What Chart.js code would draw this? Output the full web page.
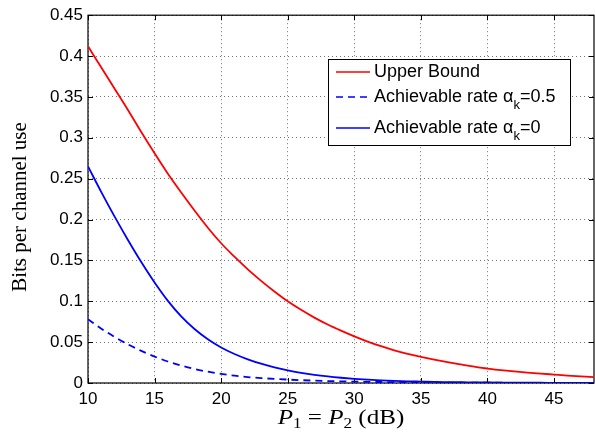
<!DOCTYPE html>
<html><head><meta charset="utf-8">
<script src="https://cdn.jsdelivr.net/npm/chart.js@4.4.1/dist/chart.umd.min.js"></script>
<style>html,body{margin:0;padding:0;background:#fff;}#wrap{width:595px;height:433px;position:relative;}</style>
</head><body><div id="wrap"><canvas id="c" width="595" height="433"></canvas></div>
<script>
// ---- data ----
const xValues = [10,11,12,13,14,15,16,17,18,19,20,21,22,23,24,25,26,27,28,29,30,31,32,33,34,35,36,37,38,39,40,41,42,43,44,45,46,47,48];
const upperBound = [0.412,0.386,0.360,0.334,0.307,0.281,0.256,0.233,0.211,0.190,0.171,0.1545,0.139,0.125,0.112,0.100,0.0895,0.080,0.0715,0.064,0.057,0.0507,0.045,0.040,0.0357,0.032,0.0286,0.0255,0.0227,0.0200,0.0176,0.0158,0.0142,0.0128,0.0115,0.0103,0.0091,0.0080,0.0071];
const rateAlpha05 = [0.078,0.0665,0.0563,0.0473,0.0393,0.0323,0.0263,0.0213,0.0171,0.0138,0.0111,0.0090,0.0073,0.0060,0.0050,0.0042,0.0035,0.0029,0.0024,0.0020,0.0017,0.0014,0.0012,0.0010,0.0008,0.0007,0.0006,0.0005,0.0004,0.0004,0.0003,0.0003,0.0002,0.0002,0.0002,0.0001,0.0001,0.0001,0.0001];
const rateAlpha0 = [0.265,0.2335,0.2035,0.175,0.148,0.123,0.1005,0.0815,0.066,0.0535,0.0435,0.0355,0.029,0.0236,0.0192,0.0155,0.0125,0.0100,0.0080,0.0064,0.0051,0.0041,0.0033,0.0026,0.0021,0.0017,0.0013,0.0011,0.0009,0.0007,0.0006,0.0005,0.0004,0.0003,0.0003,0.0002,0.0002,0.0002,0.0001];
const seriesLabels = ['Upper Bound','Achievable rate \u03b1_k=0.5','Achievable rate \u03b1_k=0'];
const xTicks = [10,15,20,25,30,35,40,45];
const yTicks = [0,0.05,0.1,0.15,0.2,0.25,0.3,0.35,0.4,0.45];
const yTickLabels = ['0','0.05','0.1','0.15','0.2','0.25','0.3','0.35','0.4','0.45'];
const xTitleParts = [['P','i'],['1','s'],[' = ','n'],['P','i'],['2','s'],[' (dB)','n']];
const yTitle = 'Bits per channel use';

const toXY = arr => xValues.map((x,i)=>({x:x,y:arr[i]}));

const boxPlugin = {
  id:'box',
  beforeDatasetsDraw(chart){
    const {ctx, chartArea:{left,top,right,bottom}, scales:{x,y}} = chart;
    ctx.save();
    ctx.strokeStyle='#000'; ctx.lineWidth=1.2; ctx.setLineDash([]);
    ctx.strokeRect(left, top, right-left, bottom-top);
    ctx.lineWidth=1;
    const L=5;
    xTicks.forEach(v=>{const p=Math.round(x.getPixelForValue(v))+0.5;
      ctx.beginPath();ctx.moveTo(p,bottom);ctx.lineTo(p,bottom-L);ctx.moveTo(p,top);ctx.lineTo(p,top+L);ctx.stroke();});
    yTicks.forEach(v=>{const p=Math.round(y.getPixelForValue(v))+0.5;
      ctx.beginPath();ctx.moveTo(left,p);ctx.lineTo(left+L,p);ctx.moveTo(right,p);ctx.lineTo(right-L,p);ctx.stroke();});
    ctx.restore();
  },
  afterDraw(chart){
    const {ctx} = chart;
    ctx.save();
    ctx.fillStyle='#000';
    // y title
    ctx.save();
    ctx.translate(26, 207);
    ctx.rotate(-Math.PI/2);
    ctx.font='21px "Liberation Serif"';
    ctx.textAlign='center'; ctx.textBaseline='alphabetic';
    ctx.fillText(yTitle,0,0);
    ctx.restore();
    // x title
    const fonts={i:'italic 22px "Liberation Serif"', n:'22px "Liberation Serif"', s:'15px "Liberation Serif"'};
    let w=0; xTitleParts.forEach(p=>{ctx.font=fonts[p[1]]; w+=ctx.measureText(p[0]).width;});
    const sx=1.14;
    ctx.save();
    ctx.translate(341,424); ctx.scale(sx,1);
    let cx=-w/2;
    ctx.textAlign='left'; ctx.textBaseline='alphabetic';
    xTitleParts.forEach(p=>{ctx.font=fonts[p[1]]; ctx.fillText(p[0],cx,(p[1]==='s'?4:0)); cx+=ctx.measureText(p[0]).width;});
    ctx.restore();
    // legend
    const lx=328, ly=59, lw=242, lh=86;
    ctx.fillStyle='#fff'; ctx.fillRect(lx,ly,lw,lh);
    ctx.strokeStyle='#000'; ctx.lineWidth=1; ctx.strokeRect(lx+0.5,ly+0.5,lw,lh);
    const rows=[72,97,128];
    chart.data.datasets.forEach((ds,i)=>{
      const yy=rows[i];
      ctx.strokeStyle=ds.borderColor; ctx.lineWidth=1.6; ctx.setLineDash(ds.borderDash||[]);
      ctx.beginPath(); ctx.moveTo(336,yy); ctx.lineTo(370,yy); ctx.stroke(); ctx.setLineDash([]);
      ctx.fillStyle='#000'; ctx.textBaseline='middle';
      const parts=ds.label.split(/_(\w)/);
      let tx=374;
      parts.forEach((t,j)=>{
        if(j%2===1){ctx.font='13px "Liberation Sans"'; ctx.fillText(t,tx,yy+8);}
        else {ctx.font='18px "Liberation Sans"'; ctx.fillText(t,tx,yy);}
        tx+=ctx.measureText(t).width;
      });
    });
    ctx.restore();
  }
};

new Chart(document.getElementById('c'),{
  type:'line',
  data:{datasets:[
    {label:seriesLabels[0], data:toXY(upperBound), borderColor:'#ff0000', borderWidth:1.8, pointRadius:0, cubicInterpolationMode:'monotone', fill:false},
    {label:seriesLabels[1], data:toXY(rateAlpha05), borderColor:'#0000ff', borderWidth:1.8, borderDash:[7,5], pointRadius:0, cubicInterpolationMode:'monotone', fill:false},
    {label:seriesLabels[2], data:toXY(rateAlpha0), borderColor:'#0000ff', borderWidth:1.8, pointRadius:0, cubicInterpolationMode:'monotone', fill:false}
  ]},
  options:{
    responsive:false, animation:false, devicePixelRatio:1,
    layout:{padding:{left:0,top:11,right:1,bottom:0}},
    plugins:{legend:{display:false}, tooltip:{enabled:false}},
    scales:{
      x:{type:'linear', min:10, max:48,
        afterFit(s){s.height=50;},
        afterBuildTicks(s){s.ticks=xTicks.map(v=>({value:v}));},
        grid:{color:'rgba(0,0,0,0.55)', lineWidth:1, drawTicks:false},
        border:{display:false, dash:[1,3]},
        ticks:{padding:6, color:'#000', font:{family:'"Liberation Sans"', size:17}, maxRotation:0, callback:v=>String(v)}
      },
      y:{type:'linear', min:0, max:0.45,
        afterFit(s){s.width=88;},
        afterBuildTicks(s){s.ticks=yTicks.map(v=>({value:v}));},
        grid:{color:'rgba(0,0,0,0.55)', lineWidth:1, drawTicks:false},
        border:{display:false, dash:[1,3]},
        ticks:{padding:5, color:'#000', font:{family:'"Liberation Sans"', size:17}, callback:(v,i)=>yTickLabels[i]}
      }
    }
  },
  plugins:[boxPlugin]
});
</script></body></html>
